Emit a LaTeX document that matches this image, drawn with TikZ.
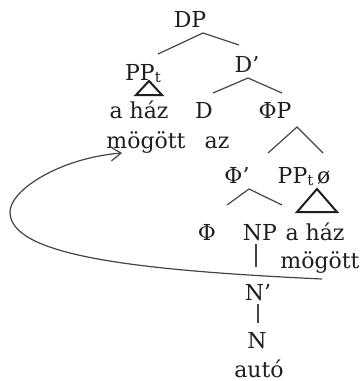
\documentclass[tikz,border=0pt]{standalone}
\usepackage{fontspec}
\setmainfont{DejaVu Serif}
\usetikzlibrary{arrows.meta}
\definecolor{ink}{HTML}{1E1E1E}
\definecolor{branch}{HTML}{444444}
\newcommand{\trsub}[1]{\raisebox{-0.25ex}{\fontsize{15}{15}\selectfont #1}}
\begin{document}
\begin{tikzpicture}[x=1pt,y=-1pt,
  lbl/.style={anchor=base,inner sep=0pt,text=ink,font=\fontsize{22}{22}\selectfont},
  edge/.style={draw=branch,line width=1.2pt},
  roof/.style={draw=ink,line width=2pt,line join=miter},
  move/.style={draw=branch,line width=1.2pt,-{Straight Barb[length=10pt,width=14pt,line width=1.2pt]}}]
\useasboundingbox (0,0) rectangle (360,381);
% labels
\node[lbl] (dp)    at (190,27)  {DP};
\node[lbl] (ppt)   at (143,80)  {PP\trsub{t}};
\node[lbl] (dbar)  at (247,72)  {D’};
\node[lbl] (haz1)  at (139,118) {a ház};
\node[lbl] (mog1)  at (146,148) {mögött};
\node[lbl] (d)     at (204,118) {D};
\node[lbl] (phip)  at (275,118) {ΦP};
\node[lbl] (az)    at (217,148) {az};
\node[lbl] (phibar) at (237,183) {Φ’};
\node[lbl] (ppt2)  at (304,183) {PP\trsub{t}\,ø};
\node[lbl] (phi)   at (207,240) {Φ};
\node[lbl] (np)    at (260,240) {NP};
\node[lbl] (haz2)  at (315,240) {a ház};
\node[lbl] (mog2)  at (320,268) {mögött};
\node[lbl] (nbar)  at (258,300) {N’};
\node[lbl] (n)     at (257,348) {N};
\node[lbl] (auto)  at (259,377) {autó};
% branch points
\coordinate (dpA) at (203,33);
\coordinate (dbarA) at (248,78);
\coordinate (phipA) at (297,127);
\coordinate (phibarA) at (249,189);
% branches
\draw[edge] (158,54) -- (dpA) -- (239,45);
\draw[edge] (213,93) -- (dbarA) -- (282,93);
\draw[edge] (268,153) -- (phipA) -- (323,153);
\draw[edge] (227,205) -- (phibarA) -- (282,205);
\draw[edge] (256,244) -- (256,267);
\draw[edge] (258,304) -- (258,323);
% roofs
\draw[roof] (149,81) -- (162,95) -- (136,95) -- cycle;
\draw[roof] (317,189) -- (337,212) -- (297,212) -- cycle;
% movement arrow
\coordinate (mvS) at (322,279);
\coordinate (mvL) at (10,212);
\coordinate (mvE) at (122,153);
\draw[move] (mvS) .. controls (130,270) and (10,255) .. (mvL)
  .. controls (10,190) and (60,158) .. (mvE);
\end{tikzpicture}
\end{document}
